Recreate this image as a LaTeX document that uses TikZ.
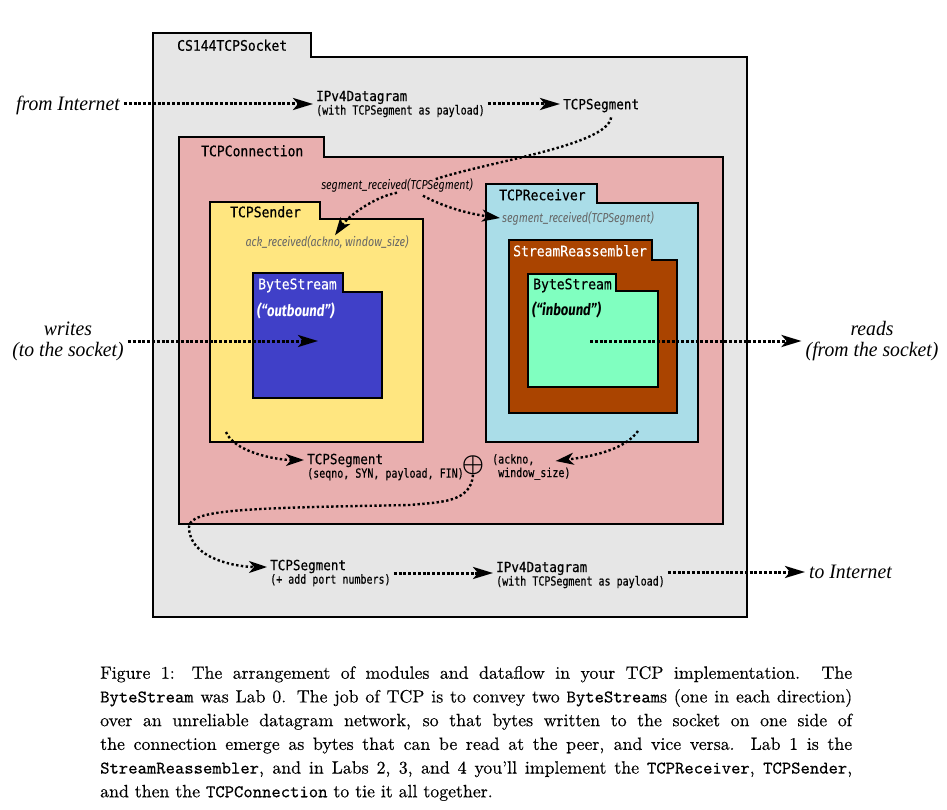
\documentclass[tikz,border=0pt]{standalone}
\usepackage{fontspec}
\setmainfont{Latin Modern Roman}[OpticalSize=10, FakeBold=0.3]
\setmonofont{Latin Modern Mono}[OpticalSize=10, FakeBold=0.3]
\newfontfamily\boxfont{DejaVu Sans Mono}[FakeStretch=0.9, FakeBold=0.5]
\newfontfamily\notefont{DejaVu Sans Mono}[FakeStretch=0.8, FakeBold=0.4]
\newfontfamily\callfont{Fira Sans}[FakeStretch=0.82]
\newfontfamily\handfont{Liberation Serif}[FakeStretch=0.96]
\usetikzlibrary{arrows.meta,positioning,calc}

\definecolor{sockgray}{HTML}{E6E6E6}
\definecolor{connpink}{HTML}{E9AFAF}
\definecolor{sndyellow}{HTML}{FFE680}
\definecolor{rcvblue}{HTML}{AADDE8}
\definecolor{reasbrown}{HTML}{AA4400}
\definecolor{inmint}{HTML}{80FFC0}
\definecolor{outblue}{HTML}{4040C8}

\newcommand{\notetext}{\notefont\fontsize{12.5}{13.5}\selectfont}
\newcommand{\tightlines}{\lineskiplimit-10pt\relax}

% folder shaped module: name, fill, top left, tab corner, bottom right
\newcommand{\folderbox}[5]{%
  \coordinate (#1tl) at (#3);
  \coordinate (#1tab) at (#4);
  \coordinate (#1br) at (#5);
  \draw[boxline, fill=#2] (#1tl) -- (#1tl -| #1tab) -- (#1tab) -- (#1tab -| #1br)
    -- (#1br) -- (#1br -| #1tl) -- cycle;
}

\begin{document}
\begin{tikzpicture}[
    x=1pt, y=-1pt,
    boxline/.style={draw=black, line width=2.4pt},
    title/.style={font=\boxfont\fontsize{14.5}{16}\selectfont, anchor=west, inner sep=0pt, text height=10.5pt, text depth=0pt},
    lbl/.style={font=\boxfont\fontsize{14}{13.5}\selectfont\tightlines, align=left, anchor=west, inner sep=3pt},
    call/.style={font=\callfont\itshape\fontsize{13}{14}\selectfont, inner sep=2pt, text height=9pt, text depth=0pt},
    tag/.style={font=\callfont\bfseries\itshape\fontsize{16}{17}\selectfont, anchor=west, inner sep=2pt},
    hand/.style={font=\handfont\itshape\fontsize{20.5}{21}\selectfont, align=center, inner sep=4pt},
    dots/.style={line width=2.4pt, dash pattern=on 2.4pt off 2.4pt},
    curvy/.style={dots, -{Stealth[length=18pt, width=12pt, inset=5pt]}},
    flow/.style={line width=3pt, dash pattern=on 3pt off 1.8pt, -{Stealth[length=20pt, width=12pt, inset=5pt]}}
  ]
  \fill[white] (0,0) rectangle (947,810);
  \useasboundingbox (0,0) rectangle (947,810);

  % modules
  \folderbox{sock}{sockgray}{153,33}{311,57}{747,617}
  \folderbox{conn}{connpink}{179,137}{324,157}{723,524}
  \folderbox{snd}{sndyellow}{210,202}{320,219}{423,442}
  \folderbox{rcv}{rcvblue}{486,184}{597,203}{698,442}
  \folderbox{reas}{reasbrown}{509,240}{652,260}{677,413}
  \folderbox{inbs}{inmint}{528,274}{616,291}{658,387}
  \folderbox{outbs}{outblue}{253,273}{343,292}{382,398}

  \node[title] (socktitle) at (177,45.5) {CS144TCPSocket};
  \node[title] (conntitle) at (201,151) {TCPConnection};
  \node[title] (sndtitle) at (230,212) {TCPSender};
  \node[title] (rcvtitle) at (499,195) {TCPReceiver};
  \node[title, text=white] (reastitle) at (513,251) {StreamReassembler};
  \node[title, text=white] (outtitle) at (258,284) {ByteStream};
  \node[title] (intitle) at (533,284) {ByteStream};
  \node[tag, text=white] (outlbl) at (255,311) {(“outbound”)};
  \node[tag] (inlbl) at (530,310) {(“inbound”)};

  % labels
  \node[hand, anchor=east, text height=13pt, text depth=0pt] (frominet) at (124,104) {from Internet};
  \node[lbl] (ipin) at (313,104) {IPv4Datagram\\{\notetext (with TCPSegment as payload)}};
  \node[lbl, text height=10.5pt, text depth=0pt] (segin) at (560,104) {TCPSegment};
  \node[call] (segrecv) at (397,185) {segment\_received(TCPSegment)};
  \node[call, text=black!60] (ack) at (327,242) {ack\_received(ackno, window\_size)};
  \node[call, text=black!60, anchor=west] (rseg) at (500,218) {segment\_received(TCPSegment)};
  \node[hand] (writes) at (68,341) {writes\\(to the socket)};
  \node[hand] (reads) at (872,341) {reads\\(from the socket)};
  \node[lbl] (segout) at (304,467) {TCPSegment\\{\notetext (seqno, SYN, payload, FIN)}};
  \node[inner sep=0pt, font=\boldmath\fontsize{25}{25}\selectfont] (oplus) at (473,465) {$\oplus$};
  \node[lbl, font=\notetext\tightlines] (ackout) at (489,467) {(ackno,\\\phantom{(}window\_size)};
  \node[lbl] (segnet) at (267,573) {TCPSegment\\{\notetext (+ add port numbers)}};
  \node[lbl] (ipnet) at (493,575) {IPv4Datagram\\{\notetext (with TCPSegment as payload)}};
  \node[hand, anchor=west, text height=13pt, text depth=0pt] (tonet) at (805,572) {to Internet};

  \coordinate (wrin) at (318,341);
  \coordinate (rdout) at (590,341);
  \coordinate (sndout) at (226,432);
  \coordinate (rcvout) at (638,431);

  % dataflow
  \draw[flow] (frominet) -- (ipin);
  \draw[flow] (ipin) -- (segin);
  \draw[dots] ($(segin.south)+(10,5)$) .. controls +(-4,28) and +(55,-18) .. ($(segrecv.north)+(38,1)$);
  \draw[curvy] ($(segrecv.south)+(0,1)$) .. controls +(-22,4) and +(14,-20) .. ($(ack.north)+(8,0)$);
  \draw[curvy] ($(segrecv.south)+(26,4)$) .. controls +(22,12) and +(-30,-4) .. (rseg.west);
  \draw[flow] (writes) -- (wrin);
  \draw[flow] (rdout) -- (reads);
  \draw[curvy] (sndout) .. controls +(8,20) and +(-28,0) .. ($(segout.west)+(0,-7)$);
  \draw[curvy] (rcvout) .. controls +(-14,20) and +(32,-4) .. ($(ackout.east)+(-18,-6)$);
  \draw[curvy] (oplus.south) .. controls +(-2,28) and +(30,-3) .. (410,505)
    .. controls +(-160,3) and +(0,-18) .. (189,527)
    .. controls +(0,32) and +(-30,0) .. ($(segnet.west)+(0,-6)$);
  \draw[flow] (segnet.east) -- (segnet.east -| ipnet.west);
  \draw[flow] (tonet -| ipnet.east) -- (tonet);

  % caption
  \node[anchor=north west, text width=752pt, align=justify, inner sep=0pt, font=\fontsize{17.8}{23.7}\selectfont] (cap) at (100,666) {Figure 1: The arrangement of modules and dataflow in your TCP implementation. The\linebreak
    \texttt{ByteStream} was Lab 0. The job of TCP is to convey two \texttt{ByteStream}s (one in each direction)\linebreak
    over an unreliable datagram network, so that bytes written to the socket on one side of\linebreak
    the connection emerge as bytes that can be read at the peer, and vice versa. Lab 1 is the\linebreak
    \texttt{StreamReassembler}, and in Labs 2, 3, and 4 you'll implement the \texttt{TCPReceiver}, \texttt{TCPSender},\linebreak
    and then the \texttt{TCPConnection} to tie it all together.};
\end{tikzpicture}
\end{document}
